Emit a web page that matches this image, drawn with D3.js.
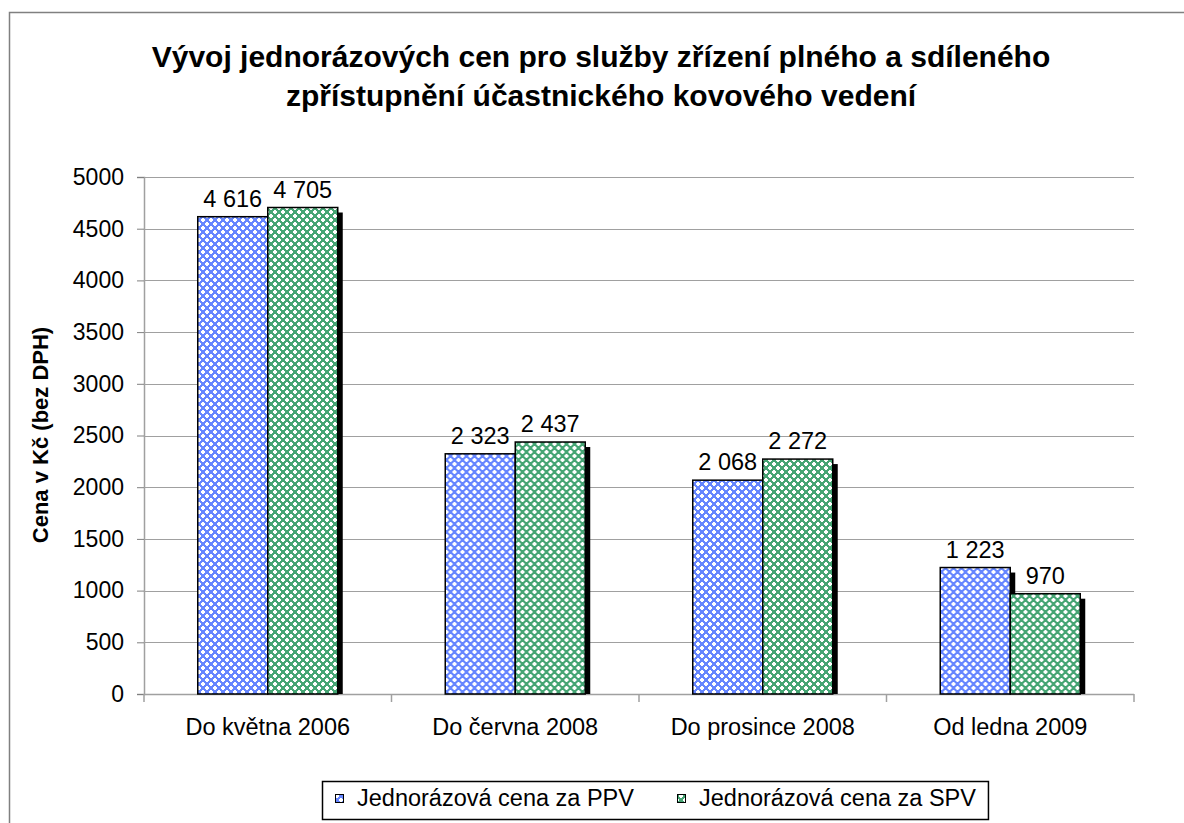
<!DOCTYPE html>
<html>
<head>
<meta charset="utf-8">
<script src="https://cdn.jsdelivr.net/npm/d3@7"></script>
<style>
  body { margin: 0; background: #fff; }
  svg text { font-family: "Liberation Sans", Arial, sans-serif; fill: #000; }
</style>
</head>
<body>
<div id="chart"></div>
<script>
// chart data
var categories = ["Do května 2006", "Do června 2008", "Do prosince 2008", "Od ledna 2009"];
var seriesNames = ["Jednorázová cena za PPV", "Jednorázová cena za SPV"];
var ppvValues = [4616, 2323, 2068, 1223];
var spvValues = [4705, 2437, 2272, 970];
var yTicks = [0, 500, 1000, 1500, 2000, 2500, 3000, 3500, 4000, 4500, 5000];
var titleLines = ["Vývoj jednorázových cen pro služby zřízení plného a sdíleného",
                  "zpřístupnění účastnického kovového vedení"];

var W = 1184, H = 823;
var margin = { top: 177, left: 144 };
var width = 1134 - margin.left,
    height = 694 - margin.top;

var svg = d3.select("#chart").append("svg")
    .attr("width", W).attr("height", H);

// patterns for the bars
var defs = svg.append("defs");
function addPattern(id, base) {
    var p = defs.append("pattern").attr("id", id)
        .attr("patternUnits", "userSpaceOnUse")
        .attr("width", 8).attr("height", 8);
    p.append("rect").attr("width", 8).attr("height", 8).attr("fill", base);
    // white crosses
    p.append("rect").attr("x", 1).attr("y", 2).attr("width", 4).attr("height", 2).attr("fill", "#fff");
    p.append("rect").attr("x", 2).attr("y", 1).attr("width", 2).attr("height", 4).attr("fill", "#fff");
    p.append("rect").attr("x", 5).attr("y", 6).attr("width", 4).attr("height", 2).attr("fill", "#fff");
    p.append("rect").attr("x", -3).attr("y", 6).attr("width", 4).attr("height", 2).attr("fill", "#fff");
    p.append("rect").attr("x", 6).attr("y", 5).attr("width", 2).attr("height", 4).attr("fill", "#fff");
    p.append("rect").attr("x", 6).attr("y", -3).attr("width", 2).attr("height", 4).attr("fill", "#fff");
}
addPattern("patBlue", "#6686ff");
addPattern("patGreen", "#46a574");
var fills = ["url(#patBlue)", "url(#patGreen)"];

// outer chart border
svg.append("rect")
    .attr("x", 9.5).attr("y", 12.5)
    .attr("width", W + 20).attr("height", H + 20)
    .attr("fill", "none").attr("stroke", "#808080").attr("stroke-width", 1.5);

// title
svg.append("g").selectAll("text")
    .data(titleLines).enter().append("text")
    .attr("x", 601).attr("y", function (d, i) { return 67 + i * 39; })
    .attr("text-anchor", "middle")
    .style("font-size", "30px").style("font-weight", "bold")
    .text(function (d) { return d; });

var g = svg.append("g")
    .attr("transform", "translate(" + margin.left + "," + margin.top + ")");

var x0 = d3.scaleBand().domain(categories).range([0, width]).paddingInner(0).paddingOuter(0);
var y = d3.scaleLinear().domain([0, 5000]).range([height, 0]);
var barW = 70;
var x1 = d3.scaleBand().domain([0, 1]).range([x0.bandwidth() / 2 - barW, x0.bandwidth() / 2 + barW]);

// gridlines
g.append("g").selectAll("line")
    .data(yTicks.slice(1)).enter().append("line")
    .attr("x1", 0).attr("x2", width)
    .attr("y1", function (d) { return Math.round(y(d)) + 0.5; })
    .attr("y2", function (d) { return Math.round(y(d)) + 0.5; })
    .attr("stroke", "#a0a0a0").attr("stroke-width", 1);

// y axis
var yAxis = g.append("g")
    .call(d3.axisLeft(y).tickValues(yTicks).tickSize(7).tickPadding(13).tickFormat(d3.format("d")));
yAxis.select(".domain").attr("stroke", "#a0a0a0").attr("stroke-width", 1.5);
yAxis.selectAll(".tick line").attr("stroke", "#808080");
yAxis.selectAll("text").style("font-size", "23px").attr("fill", "#000");

// x axis
var xAxis = g.append("g").attr("transform", "translate(0," + height + ")");
xAxis.append("line").attr("x1", 0).attr("x2", width).attr("y1", 0.5).attr("y2", 0.5)
    .attr("stroke", "#a0a0a0").attr("stroke-width", 1.5);
xAxis.selectAll("line.tk")
    .data(d3.range(categories.length + 1)).enter().append("line")
    .attr("class", "tk")
    .attr("x1", function (i) { return i * x0.bandwidth(); })
    .attr("x2", function (i) { return i * x0.bandwidth(); })
    .attr("y1", 0).attr("y2", 8)
    .attr("stroke", "#a0a0a0").attr("stroke-width", 1.5);
xAxis.selectAll("text")
    .data(categories).enter().append("text")
    .attr("x", function (d) { return x0(d) + x0.bandwidth() / 2; })
    .attr("y", 41)
    .attr("text-anchor", "middle")
    .style("font-size", "23.5px")
    .text(function (d) { return d; });

// y axis title
svg.append("text")
    .attr("transform", "translate(48,435) rotate(-90)")
    .attr("text-anchor", "middle")
    .style("font-size", "22px").style("font-weight", "bold")
    .text("Cena v Kč (bez DPH)");

// bars
var rows = categories.map(function (c, i) {
    return { cat: c, vals: [ppvValues[i], spvValues[i]] };
});
var groups = g.selectAll(".grp").data(rows).enter().append("g")
    .attr("class", "grp")
    .attr("transform", function (d) { return "translate(" + x0(d.cat) + ",0)"; });

// shadows
groups.selectAll(".shadow")
    .data(function (d) { return d.vals; }).enter().append("rect")
    .attr("class", "shadow")
    .attr("x", function (d, i) { return x1(i) + 5; })
    .attr("y", function (d) { return y(d) + 5; })
    .attr("width", barW)
    .attr("height", function (d) { return height - y(d) - 5; })
    .attr("fill", "#000");

groups.selectAll(".bar")
    .data(function (d) { return d.vals; }).enter().append("rect")
    .attr("class", "bar")
    .attr("x", function (d, i) { return x1(i); })
    .attr("y", function (d) { return y(d); })
    .attr("width", barW)
    .attr("height", function (d) { return height - y(d); })
    .attr("fill", function (d, i) { return fills[i]; })
    .attr("stroke", "#000").attr("stroke-width", 1.5);

// data labels
var fmt = function (v) { return d3.format(",")(v).replace(/,/g, " "); };
groups.selectAll(".lbl")
    .data(function (d) { return d.vals; }).enter().append("text")
    .attr("class", "lbl")
    .attr("x", function (d, i) { return x1(i) + barW / 2; })
    .attr("y", function (d) { return y(d) - 10; })
    .attr("text-anchor", "middle")
    .style("font-size", "23.5px")
    .text(fmt);

// legend
var legend = svg.append("g").attr("transform", "translate(322,781)");
var legBox = legend.append("rect").attr("x", 0.5).attr("y", 0.5).attr("height", 38)
    .attr("fill", "#fff").attr("stroke", "#000").attr("stroke-width", 1.5);
var legX = [13, 355];
var legEnd = 0;
seriesNames.forEach(function (name, i) {
    legend.append("rect").attr("x", legX[i] + 0.5).attr("y", 13.5).attr("width", 8).attr("height", 8)
        .attr("fill", fills[i]).attr("stroke", "#000").attr("stroke-width", 1);
    var t = legend.append("text").attr("x", legX[i] + 22).attr("y", 25)
        .style("font-size", "23.5px").text(name);
    legEnd = legX[i] + 22 + t.node().getComputedTextLength();
});
legBox.attr("width", legEnd + 12);
</script>
</body>
</html>
